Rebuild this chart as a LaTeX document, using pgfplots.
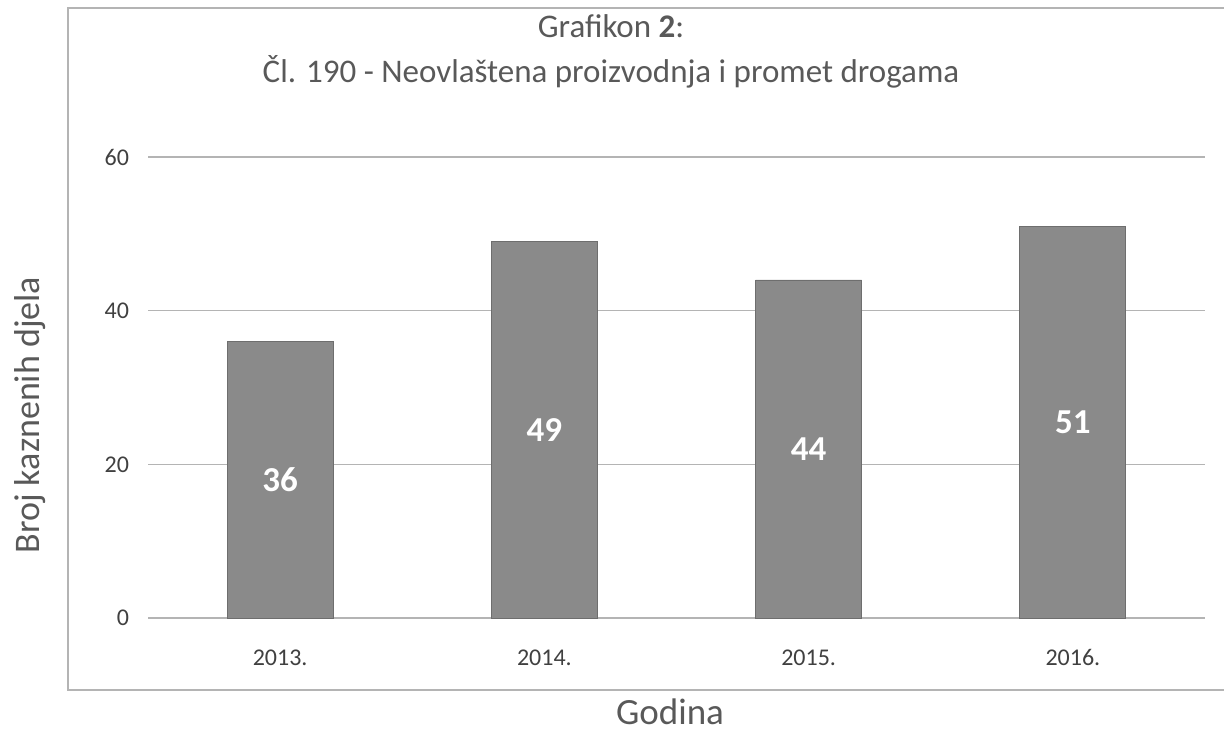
\documentclass[border=0pt]{standalone}
\usepackage{pgfplots}
\pgfplotsset{compat=1.18}
\usepackage{fontspec}
\setmainfont{Carlito}
\definecolor{bargray}{HTML}{8A8A8A}
\definecolor{gridgray}{HTML}{B4B4B4}
\definecolor{txt}{HTML}{404040}
\definecolor{ttl}{HTML}{595959}
\begin{document}
\begin{tikzpicture}
\useasboundingbox (0,0) rectangle (612pt,367.5pt);
\draw[gridgray, line width=0.6pt] (34pt,22.5pt) rectangle (640pt,363.5pt);
\begin{axis}[
  at={(74pt,58.5pt)}, anchor=south west,
  scale only axis, width=528.5pt, height=230.5pt,
  ybar, bar width=53pt,
  xmin=-0.5, xmax=3.5, ymin=0, ymax=60,
  xtick=data, xticklabels={2013.,2014.,2015.,2016.},
  ytick={0,20,40,60},
  ymajorgrids, grid style={gridgray, line width=0.6pt},
  axis line style={draw=none}, tick style={draw=none},
  /pgf/number format/assume math mode=true,
  ticklabel style={font=\fontsize{12}{14}\selectfont, text=txt},
  xticklabel style={yshift=-8pt},
  yticklabel style={xshift=-6pt},
  visualization depends on=y \as \rawy,
  nodes near coords,
  nodes near coords style={font=\bfseries\fontsize{17.5}{20}\selectfont, text=white, anchor=center,
    shift={(axis direction cs:0,-0.5*\rawy)}},
  clip=false,
]
\addplot[fill=bargray, draw=bargray!80!black, line width=0.4pt] coordinates {(0,36) (1,49) (2,44) (3,51)};
\end{axis}
\node[text=ttl, font=\fontsize{16.5}{19}\selectfont] at (305.5pt,354.5pt) {Grafikon \textbf{2}:};
\node[text=ttl, font=\fontsize{16.5}{19}\selectfont] at (305.5pt,331.5pt) {Čl. 190 - Neovlaštena proizvodnja i promet drogama};
\node[text=ttl, font=\fontsize{18}{21}\selectfont, rotate=90] at (15pt,160pt) {Broj kaznenih djela};
\node[text=ttl, font=\fontsize{18.5}{21}\selectfont, inner sep=0pt] at (335pt,11.5pt) {Godina};
\end{tikzpicture}
\end{document}
